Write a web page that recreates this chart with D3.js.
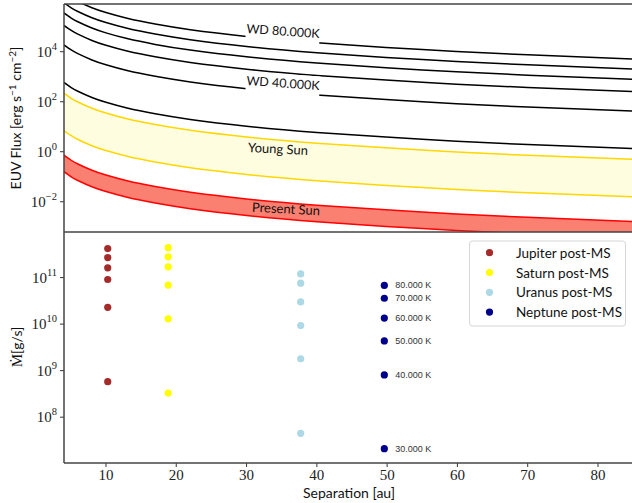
<!DOCTYPE html>
<html><head><meta charset="utf-8">
<script src="https://cdn.jsdelivr.net/npm/d3@7"></script>
<style>
body{margin:0;background:#fff;}
svg{display:block;}
</style></head>
<body>
<svg id="chart" width="632" height="503"></svg>
<script>
// ---- data ----
const separation = [4, 5, 6, 8, 10, 13, 17, 22, 30, 40, 55, 70, 90]; // au
const wd80k = [2.294e6, 1.468e6, 1.0195e6, 5.734e5, 3.67e5, 2.172e5, 1.27e5, 7.58e4, 4.08e4, 2.294e4, 1.213e4, 7.49e3, 4.53e3];
const wd70k = [9.14e5, 5.85e5, 4.06e5, 2.284e5, 1.462e5, 8.65e4, 5.06e4, 3.02e4, 1.624e4, 9.14e3, 4.83e3, 2.98e3, 1.806e3];
const wd60k = [3.54e5, 2.264e5, 1.572e5, 8.84e4, 5.66e4, 3.35e4, 1.958e4, 1.169e4, 6.29e3, 3.54e3, 1.871e3, 1.155e3, 699];
const wd50k = [1.129e5, 7.23e4, 5.02e4, 2.823e4, 1.807e4, 1.069e4, 6.25e3, 3.73e3, 2.008e3, 1.129e3, 597, 369, 223];
const wd40k = [1.875e4, 1.2e4, 8.33e3, 4.69e3, 3.0e3, 1.775e3, 1.038e3, 620, 333, 187.5, 99.2, 61.2, 37.1];
const wd30k = [592, 379, 263, 148.1, 94.8, 56.1, 32.8, 19.59, 10.53, 5.93, 3.13, 1.935, 1.171];
const youngSunHigh = [220, 140.8, 97.8, 55.0, 35.2, 20.8, 12.18, 7.27, 3.91, 2.2, 1.164, 0.718, 0.435];
const youngSunLow = [6.96, 4.46, 3.09, 1.741, 1.114, 0.659, 0.385, 0.23, 0.1238, 0.0696, 0.0368, 0.0227, 0.01376];
const presentSunHigh = [0.729, 0.467, 0.324, 0.1823, 0.1167, 0.0691, 0.0404, 0.0241, 0.01297, 0.00729, 0.00386, 0.00238, 0.00144];
const presentSunLow = [0.159, 0.102, 0.0708, 0.0398, 0.0255, 0.01509, 0.00882, 0.00527, 0.00283, 0.00159, 0.000843, 0.00052, 0.000315];

const planetNames = ["Jupiter post-MS", "Saturn post-MS", "Uranus post-MS", "Neptune post-MS"];
const planetSeparation = [10.25, 18.85, 37.7, 49.6];
const jupiterMdot = [4.2e11, 2.7e11, 1.62e11, 9.1e10, 2.3e10, 5.8e8];
const saturnMdot = [4.4e11, 2.8e11, 1.7e11, 6.9e10, 1.3e10, 3.3e8];
const uranusMdot = [1.2e11, 7.6e10, 3.0e10, 9.3e9, 1.8e9, 4.5e7];
const neptuneMdot = [6.8e10, 3.6e10, 1.35e10, 4.35e9, 8.1e8, 2.1e7];
const wdTempLabels = ["80.000 K", "70.000 K", "60.000 K", "50.000 K", "40.000 K", "30.000 K"];

const xTicks = [10, 20, 30, 40, 50, 60, 70, 80];
const fluxTickExp = [-2, 0, 2, 4];
const mdotTickExp = [8, 9, 10, 11];

// ---- layout ----
const svg = d3.select("#chart");
const left = 64, rightEdge = 700;
const topY0 = 4, midY = 232, botY1 = 463;
const sans = "Lato, 'Open Sans', sans-serif";
const serif = "'Liberation Serif', 'DejaVu Serif', serif";

const x = d3.scaleLinear().domain([4, 94]).range([63.8, 696.4]);
const yTop = d3.scaleLog().domain([Math.pow(10, -3.21), Math.pow(10, 5.908)]).range([midY, topY0]);
const yBot = d3.scaleLog().domain([Math.pow(10, 7.015), Math.pow(10, 11.98)]).range([botY1, midY]);

const defs = svg.append("defs");
defs.append("clipPath").attr("id", "clipTop").append("rect")
  .attr("x", left).attr("y", topY0).attr("width", rightEdge - left).attr("height", midY - topY0);
defs.append("clipPath").attr("id", "clipBot").append("rect")
  .attr("x", left).attr("y", midY).attr("width", rightEdge - left).attr("height", botY1 - midY);

// ---- top panel ----
const gTop = svg.append("g").attr("clip-path", "url(#clipTop)");
const idx = separation.map((d, i) => i);
const area = (lo, hi) => d3.area().curve(d3.curveNatural)
  .x(i => x(separation[i])).y0(i => yTop(lo[i])).y1(i => yTop(hi[i]))(idx);
const line = (arr) => d3.line().curve(d3.curveNatural)
  .x(i => x(separation[i])).y(i => yTop(arr[i]))(idx);

gTop.append("path").attr("d", area(youngSunLow, youngSunHigh)).attr("fill", "#FFFDE0");
gTop.append("path").attr("d", area(presentSunLow, presentSunHigh)).attr("fill", "#FA8072");
[youngSunHigh, youngSunLow].forEach(a => gTop.append("path").attr("d", line(a))
  .attr("fill", "none").attr("stroke", "#FFD700").attr("stroke-width", 1.5));
[presentSunHigh, presentSunLow].forEach(a => gTop.append("path").attr("d", line(a))
  .attr("fill", "none").attr("stroke", "#FF0000").attr("stroke-width", 1.5));
[wd80k, wd70k, wd60k, wd50k, wd40k, wd30k].forEach(a => gTop.append("path").attr("d", line(a))
  .attr("fill", "none").attr("stroke", "#000").attr("stroke-width", 1.5));

// curve labels
function curveLabel(txt, cx, cy, rot, box, fs) {
  const g = svg.append("g").attr("transform", `translate(${cx},${cy}) rotate(${rot})`);
  if (box) g.append("rect").attr("x", -37).attr("y", -9).attr("width", 74).attr("height", 22).attr("fill", "#fff");
  g.append("text").attr("text-anchor", "middle").attr("dominant-baseline", "central")
    .attr("font-family", sans).attr("font-size", fs).attr("fill", "#111").text(txt);
}
curveLabel("WD 80.000K", 283, 31, 4, true, 12.5);
curveLabel("WD 40.000K", 283, 83, 4, true, 12.5);
curveLabel("Young Sun", 278, 148.5, 3, false, 13);
curveLabel("Present Sun", 286, 208.5, 3, false, 13);

// top y axis
const gyT = svg.append("g").attr("transform", `translate(${left},0)`);
fluxTickExp.forEach(e => {
  const yy = yTop(Math.pow(10, e));
  gyT.append("line").attr("x1", -4).attr("x2", 0).attr("y1", yy).attr("y2", yy).attr("stroke", "#333").attr("stroke-width", 1);
  const t = gyT.append("text").attr("x", -7).attr("y", yy + 5).attr("text-anchor", "end")
    .attr("font-family", serif).attr("font-size", 15).attr("fill", "#222");
  t.append("tspan").text("10");
  t.append("tspan").attr("dy", -7).attr("font-size", 10.5).text(e < 0 ? "\u2212" + Math.abs(e) : e);
});

// ---- bottom panel ----
const gBot = svg.append("g").attr("clip-path", "url(#clipBot)");
const planetColors = ["#A52A2A", "#FFFF00", "#ADD8E6", "#00008B"];
const planetData = [jupiterMdot, saturnMdot, uranusMdot, neptuneMdot];
planetData.forEach((arr, k) => {
  gBot.selectAll(null).data(arr).enter().append("circle")
    .attr("cx", x(planetSeparation[k])).attr("cy", d => yBot(d)).attr("r", 3.6).attr("fill", planetColors[k]);
});
svg.append("g").selectAll("text").data(neptuneMdot).enter().append("text")
  .attr("x", x(planetSeparation[3]) + 11).attr("y", d => yBot(d)).attr("dominant-baseline", "central")
  .attr("font-family", "'Liberation Sans', Arial, sans-serif").attr("font-size", 9).attr("fill", "#333")
  .text((d, i) => wdTempLabels[i]);

// bottom y axis
const gyB = svg.append("g").attr("transform", `translate(${left},0)`);
mdotTickExp.forEach(e => {
  const yy = yBot(Math.pow(10, e));
  gyB.append("line").attr("x1", -4).attr("x2", 0).attr("y1", yy).attr("y2", yy).attr("stroke", "#333").attr("stroke-width", 1);
  const t = gyB.append("text").attr("x", -7).attr("y", yy + 5).attr("text-anchor", "end")
    .attr("font-family", serif).attr("font-size", 15).attr("fill", "#222");
  t.append("tspan").text("10");
  t.append("tspan").attr("dy", -7).attr("font-size", 10.5).text(e);
});

// x axis
const gx = svg.append("g").attr("transform", `translate(0,${botY1})`);
xTicks.forEach(v => {
  gx.append("line").attr("x1", x(v)).attr("x2", x(v)).attr("y1", 0).attr("y2", 4).attr("stroke", "#333").attr("stroke-width", 1);
  gx.append("text").attr("x", x(v)).attr("y", 17).attr("text-anchor", "middle")
    .attr("font-family", serif).attr("font-size", 15).attr("fill", "#222").text(v);
});

// spines
const spine = (x1, y1, x2, y2) => svg.append("line").attr("x1", x1).attr("y1", y1).attr("x2", x2).attr("y2", y2)
  .attr("stroke", "#444").attr("stroke-width", 1.5);
spine(left, topY0, 640, topY0);
spine(left, midY, 640, midY);
spine(left, botY1, 640, botY1);
spine(left, topY0, left, botY1);

// legend
const lg = svg.append("g");
lg.append("rect").attr("x", 469.5).attr("y", 241).attr("width", 156).attr("height", 85).attr("rx", 3)
  .attr("fill", "#fff").attr("fill-opacity", 0.8).attr("stroke", "#d6d6d6").attr("stroke-width", 1);
planetNames.forEach((n, i) => {
  const yy = 252.7 + i * 19.8;
  lg.append("circle").attr("cx", 489.5).attr("cy", yy).attr("r", 3.6).attr("fill", planetColors[i]);
  lg.append("text").attr("x", 516).attr("y", yy).attr("dominant-baseline", "central")
    .attr("font-family", sans).attr("font-size", 13.5).attr("fill", "#111").text(n);
});

// axis titles
const yl = svg.append("text").attr("transform", "translate(21,118) rotate(-90)").attr("text-anchor", "middle")
  .attr("font-family", sans).attr("font-size", 14).attr("fill", "#111");
yl.append("tspan").text("EUV Flux [erg s");
yl.append("tspan").attr("dy", -5).attr("font-size", 10).text("\u22121");
yl.append("tspan").attr("dy", 5).text(" cm");
yl.append("tspan").attr("dy", -5).attr("font-size", 10).text("\u22122");
yl.append("tspan").attr("dy", 5).text("]");

const yl2 = svg.append("text").attr("transform", "translate(22,347) rotate(-90)").attr("text-anchor", "middle")
  .attr("font-size", 15).attr("fill", "#111");
yl2.append("tspan").attr("font-family", serif).text("\u1E40");
yl2.append("tspan").attr("font-family", sans).attr("font-size", 14).text("[g/s]");

svg.append("text").attr("x", 349).attr("y", 498).attr("text-anchor", "middle")
  .attr("font-family", sans).attr("font-size", 14).attr("fill", "#111").text("Separation [au]");
</script>
</body></html>
